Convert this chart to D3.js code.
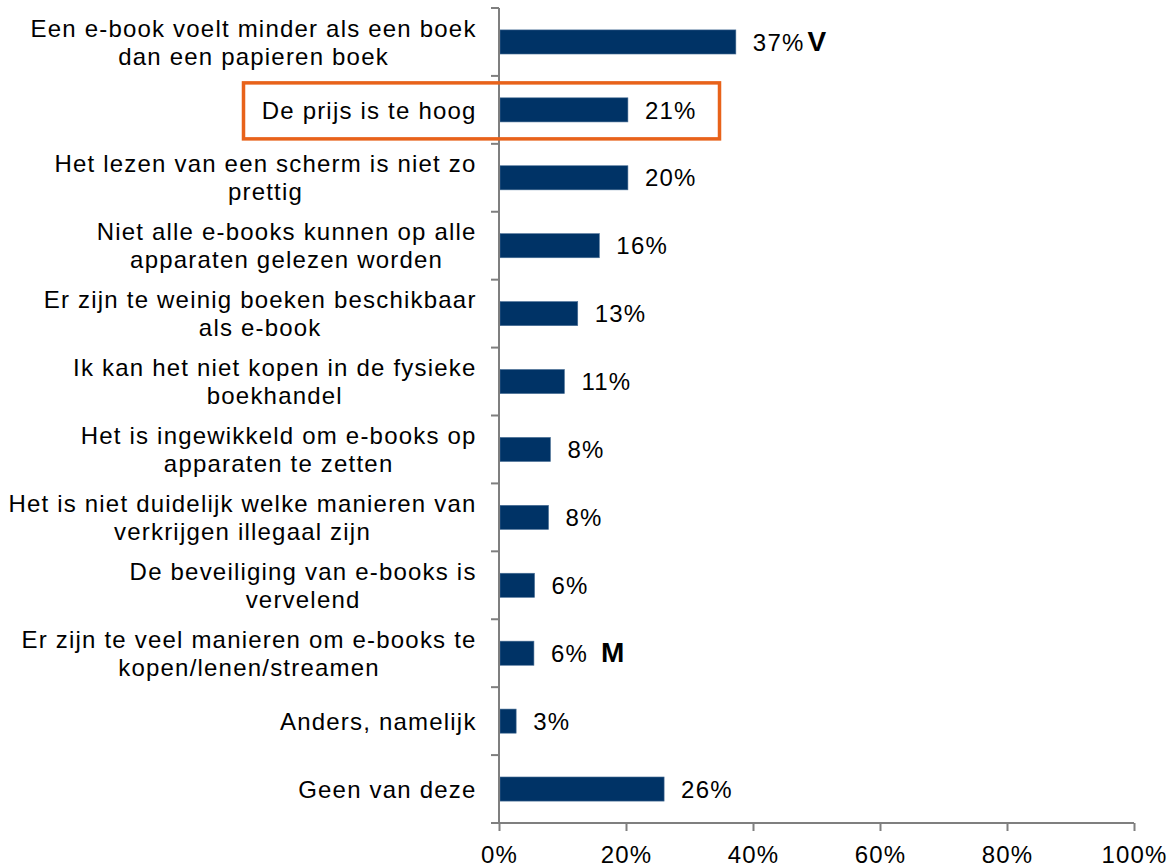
<!DOCTYPE html>
<html>
<head>
<meta charset="utf-8">
<script src="https://cdn.jsdelivr.net/npm/d3@7"></script>
<style>
  html, body { margin: 0; padding: 0; background: #fff; }
  svg { display: block; }
  text { font-family: "Liberation Sans", Arial, sans-serif; fill: #000; }
</style>
</head>
<body>
<svg id="chart" width="1169" height="866"></svg>
<script>
// ---- Data ----
const categories = [
  ["Een e-book voelt minder als een boek", "dan een papieren boek"],
  ["De prijs is te hoog"],
  ["Het lezen van een scherm is niet zo", "prettig"],
  ["Niet alle e-books kunnen op alle", "apparaten gelezen worden"],
  ["Er zijn te weinig boeken beschikbaar", "als e-book"],
  ["Ik kan het niet kopen in de fysieke", "boekhandel"],
  ["Het is ingewikkeld om e-books op", "apparaten te zetten"],
  ["Het is niet duidelijk welke manieren van", "verkrijgen illegaal zijn"],
  ["De beveiliging van e-books is", "vervelend"],
  ["Er zijn te veel manieren om e-books te", "kopen/lenen/streamen"],
  ["Anders, namelijk"],
  ["Geen van deze"]
];
const values = [37.3, 20.3, 20.3, 15.8, 12.4, 10.3, 8.1, 7.8, 5.6, 5.5, 2.7, 26.0];
const valueLabels = ["37%", "21%", "20%", "16%", "13%", "11%", "8%", "8%", "6%", "6%", "3%", "26%"];
const markers = ["V", "", "", "", "", "", "", "", "", "M", "", ""];
const xTicks = [0, 20, 40, 60, 80, 100];
const highlighted = [1];

// ---- Layout ----
const svg = d3.select("#chart");
const mLeft = 499, mRight = 1134, mTop = 8, mBottom = 823;
const fs = 24;
const ls = 1.2;

const x = d3.scaleLinear().domain([0, 100]).range([mLeft, mRight]);
const y = d3.scaleBand().domain(d3.range(categories.length)).range([mTop, mBottom]).paddingInner(0.645).paddingOuter(0.3225);
const band = d3.scaleBand().domain(d3.range(categories.length)).range([mTop, mBottom]);

const axisColor = "#7f7f7f";

// Bars
svg.append("g").selectAll("rect").data(values).join("rect")
  .attr("x", mLeft + 1)
  .attr("y", (d, i) => y(i))
  .attr("width", d => x(d) - mLeft - 1)
  .attr("height", y.bandwidth())
  .attr("fill", "#003366")
  .attr("stroke", "#4a6f96")
  .attr("stroke-width", 0.6);

// Axis lines
svg.append("line").attr("x1", mLeft).attr("x2", mLeft).attr("y1", mTop).attr("y2", mBottom)
  .attr("stroke", axisColor).attr("stroke-width", 2);

const xAxis = d3.axisBottom(x).tickValues(xTicks).tickSize(8).tickFormat(d => d + "%");
const gx = svg.append("g").attr("transform", `translate(0,${mBottom})`).call(xAxis);
gx.select(".domain").attr("stroke", axisColor).attr("stroke-width", 2).attr("d", `M${mLeft},0H${mRight}`);
gx.selectAll(".tick line").attr("stroke", axisColor).attr("stroke-width", 2);
gx.selectAll(".tick text")
  .attr("y", 40)
  .attr("dy", 0)
  .style("font-size", fs + "px")
  .style("letter-spacing", ls + "px")
  .style("font-family", '"Liberation Sans", Arial, sans-serif')
  .attr("fill", "#000");

// Y boundary ticks
const boundaries = d3.range(categories.length).map(i => band(i)).concat([mBottom]);
svg.append("g").selectAll("line").data(boundaries).join("line")
  .attr("x1", mLeft - 8).attr("x2", mLeft)
  .attr("y1", d => d).attr("y2", d => d)
  .attr("stroke", axisColor).attr("stroke-width", 2);

// Category labels (block right-aligned, lines centered within block)
const catG = svg.append("g");
const labelRight = 476;
categories.forEach((lines, i) => {
  const cy = y(i) + y.bandwidth() / 2;
  const t = catG.append("text")
    .attr("text-anchor", "middle")
    .style("font-size", fs + "px")
    .style("letter-spacing", ls + "px");
  const spans = lines.map((ln, j) => {
    const off = (j - (lines.length - 1) / 2) * 28;
    return t.append("tspan").attr("y", cy + off + fs * 0.36).text(ln);
  });
  const maxW = d3.max(spans, s => s.node().getComputedTextLength()) - ls;
  spans.forEach(s => s.attr("x", labelRight - maxW / 2));
});

// Value labels
const valG = svg.append("g");
values.forEach((v, i) => {
  const cy = y(i) + y.bandwidth() / 2;
  const t = valG.append("text")
    .attr("x", x(v) + 17)
    .attr("y", cy + fs * 0.36)
    .style("font-size", fs + "px")
    .style("letter-spacing", ls + "px")
    .text(valueLabels[i]);
  if (markers[i]) {
    t.append("tspan")
      .attr("dx", markers[i] === "V" ? 3 : 13)
      .style("font-weight", "bold")
      .style("font-size", "28px")
      .style("letter-spacing", "0px")
      .text(markers[i]);
  }
});

// Highlight box
highlighted.forEach(i => {
  const cy = y(i) + y.bandwidth() / 2;
  svg.append("rect")
    .attr("x", 243.5)
    .attr("y", cy - 27)
    .attr("width", 476)
    .attr("height", 56)
    .attr("fill", "none")
    .attr("stroke", "#E8621A")
    .attr("stroke-width", 3.5);
});
</script>
</body>
</html>
